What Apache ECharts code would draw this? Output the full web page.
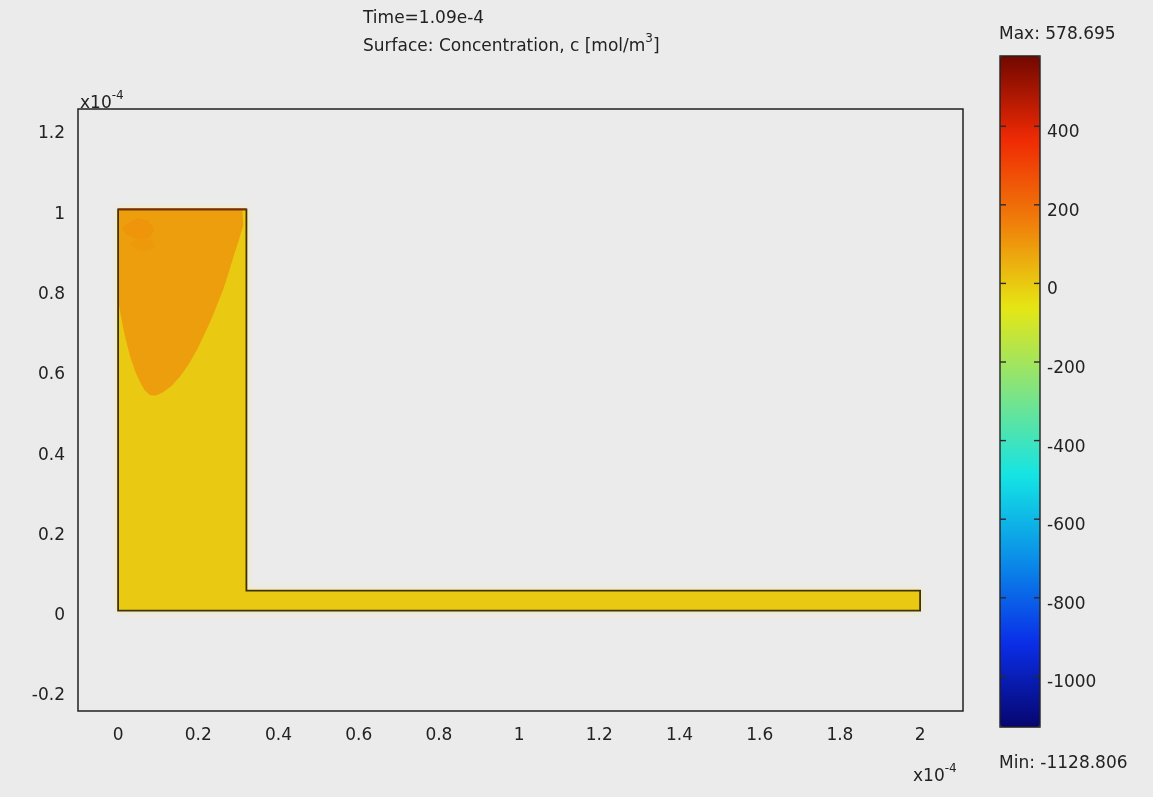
<!DOCTYPE html>
<html>
<head>
<meta charset="utf-8">
<script src="https://cdn.jsdelivr.net/npm/echarts@6/dist/echarts.min.js"></script>
<style>
html, body { margin: 0; padding: 0; background: #ebebeb; }
#main { width: 1153px; height: 797px; }
</style>
</head>
<body>
<div id="main"></div>
<script>
// tick labels (x10^-4 m)
var xTicks = [0, 0.2, 0.4, 0.6, 0.8, 1, 1.2, 1.4, 1.6, 1.8, 2];
var yTicks = [-0.2, 0, 0.2, 0.4, 0.6, 0.8, 1, 1.2];
// colour bar
var barTicks = [-1000, -800, -600, -400, -200, 0, 200, 400];
var cMin = -1128.806;
var cMax = 578.695;

// L-shaped domain: reservoir + channel
var domainX = [0, 2, 2, 0.32, 0.32, 0];
var domainY = [0, 0, 0.05, 0.05, 1, 1];
var domainC = 0;
// orange plume under the inlet
var plumeX = [0, 0.31, 0.312, 0.300, 0.287, 0.275, 0.262, 0.246, 0.229, 0.213, 0.197, 0.177, 0.155, 0.133,
  0.112, 0.095, 0.080, 0.066, 0.055, 0.042, 0.030, 0.019, 0.010, 0.004, 0];
var plumeY = [1, 1, 0.96, 0.92, 0.88, 0.84, 0.80, 0.76, 0.718, 0.684, 0.651, 0.615, 0.584, 0.560,
  0.544, 0.536, 0.537, 0.550, 0.569, 0.598, 0.634, 0.676, 0.718, 0.750, 0.783];
var plumeC = 88;
// darker swirls near the top-left corner
var blobX = [0.015, 0.045, 0.075, 0.09, 0.08, 0.05, 0.025, 0.01];
var blobY = [0.96, 0.978, 0.972, 0.95, 0.93, 0.925, 0.935, 0.948];
var blobC = 108;
var blob2X = [0.03, 0.06, 0.085, 0.09, 0.07, 0.045];
var blob2Y = [0.915, 0.93, 0.925, 0.905, 0.895, 0.9];
var blob2C = 102;

var font = 'DejaVu Sans';
var shapes = [
  { xs: domainX, ys: domainY, c: domainC },
  { xs: plumeX, ys: plumeY, c: plumeC },
  { xs: blobX, ys: blobY, c: blobC },
  { xs: blob2X, ys: blob2Y, c: blob2C }
];

var chart = echarts.init(document.getElementById('main'));

function renderShape(params, api) {
  var s = shapes[params.dataIndex];
  var pts = s.xs.map(function (x, i) { return api.coord([x, s.ys[i]]); });
  var fill = {
    type: 'polygon',
    shape: { points: pts },
    style: { fill: api.visual('color') }
  };
  if (params.dataIndex !== 0) return fill;
  fill.style.shadowBlur = 6;
  fill.style.shadowColor = 'rgba(255,235,140,0.95)';
  return {
    type: 'group',
    children: [
      fill,
      {
        type: 'polygon', z2: 10,
        shape: { points: pts },
        style: { fill: 'none', stroke: '#3f3406', lineWidth: 1.8 }
      },
      {
        type: 'line', z2: 11,
        shape: { x1: pts[5][0], y1: pts[5][1], x2: pts[4][0], y2: pts[4][1] },
        style: { stroke: '#7e2804', lineWidth: 1.8 }
      }
    ]
  };
}

// short tick marks on both edges of the colour bar
function renderBarTick(params, api) {
  var l = api.coord([0, api.value(0)]);
  var r = api.coord([1, api.value(0)]);
  var st = { stroke: '#2a2a2a', lineWidth: 1.4 };
  return {
    type: 'group',
    children: [
      { type: 'line', shape: { x1: l[0], y1: l[1], x2: l[0] + 6, y2: l[1] }, style: st },
      { type: 'line', shape: { x1: r[0] - 6, y1: r[1], x2: r[0], y2: r[1] }, style: st }
    ]
  };
}

var labelStyle = { color: '#222', fontSize: 17, fontFamily: font };
var supRich = {
  a: { fill: '#222', fontSize: 17, fontFamily: font, lineHeight: 22, verticalAlign: 'bottom' },
  s: { fill: '#222', fontSize: 12, fontFamily: font, lineHeight: 22, verticalAlign: 'top' }
};

chart.setOption({
  backgroundColor: '#ebebeb',
  animation: false,
  graphic: [
    {
      type: 'text', left: 363, top: 10,
      style: { text: 'Time=1.09e-4', fill: '#222', fontSize: 17, fontFamily: font }
    },
    {
      type: 'text', left: 363, top: 33,
      style: { text: '{a|Surface: Concentration, c [mol/m}{s|3}{a|]}', rich: supRich }
    },
    {
      type: 'text', left: 80, top: 90,
      style: { text: '{a|x10}{s|-4}', rich: supRich }
    },
    {
      type: 'text', left: 913, top: 763,
      style: { text: '{a|x10}{s|-4}', rich: supRich }
    },
    {
      type: 'text', left: 999, top: 26,
      style: { text: 'Max: ' + cMax, fill: '#222', fontSize: 17, fontFamily: font }
    },
    {
      type: 'text', left: 999, top: 755,
      style: { text: 'Min: ' + cMin, fill: '#222', fontSize: 17, fontFamily: font }
    }
  ],
  grid: [
    { left: 78, top: 109, width: 885, height: 602, show: true, borderColor: '#222', borderWidth: 1.5, backgroundColor: 'transparent' },
    { left: 1000, top: 56, width: 40, height: 671, show: true, borderColor: '#222', borderWidth: 1.4, backgroundColor: 'transparent', z: 10 }
  ],
  xAxis: [
    {
      type: 'value', gridIndex: 0, min: -0.1, max: 2.107,
      axisLine: { show: false }, axisTick: { show: false }, splitLine: { show: false },
      axisLabel: Object.assign({ customValues: xTicks, margin: 16 }, labelStyle)
    },
    { type: 'value', gridIndex: 1, min: 0, max: 1, show: false }
  ],
  yAxis: [
    {
      type: 'value', gridIndex: 0, min: -0.25, max: 1.25,
      axisLine: { show: false }, axisTick: { show: false }, splitLine: { show: false },
      axisLabel: Object.assign({ customValues: yTicks, margin: 13, verticalAlign: 'top', lineHeight: 10 }, labelStyle)
    },
    {
      type: 'value', gridIndex: 1, position: 'right', min: cMin, max: cMax,
      axisLine: { show: false }, splitLine: { show: false }, axisTick: { show: false },
      axisLabel: Object.assign({ customValues: barTicks, margin: 7, verticalAlign: 'top', lineHeight: 13,
        formatter: function (v) { return String(v); } }, labelStyle)
    }
  ],
  visualMap: {
    type: 'continuous', seriesIndex: 0, dimension: 0, z: 1,
    min: cMin, max: cMax,
    left: 1000, top: 56, itemWidth: 40, itemHeight: 671, padding: 0,
    calculable: false, hoverLink: false, realtime: false,
    inRange: {
      color: ['#06066e', '#0a2ee8', '#0a8ee8', '#14e4e4', '#80e482', '#e6e614', '#f0800a', '#f02a04', '#720800']
    }
  },
  series: [
    {
      type: 'custom',
      xAxisIndex: 0, yAxisIndex: 0,
      renderItem: renderShape,
      encode: { x: 1, y: 1 },
      data: shapes.map(function (s, i) { return [s.c, i]; })
    },
    {
      type: 'custom',
      xAxisIndex: 1, yAxisIndex: 1, z: 12,
      renderItem: renderBarTick,
      encode: { y: 0 },
      data: barTicks.map(function (v) { return [v]; })
    }
  ]
});
</script>
</body>
</html>
